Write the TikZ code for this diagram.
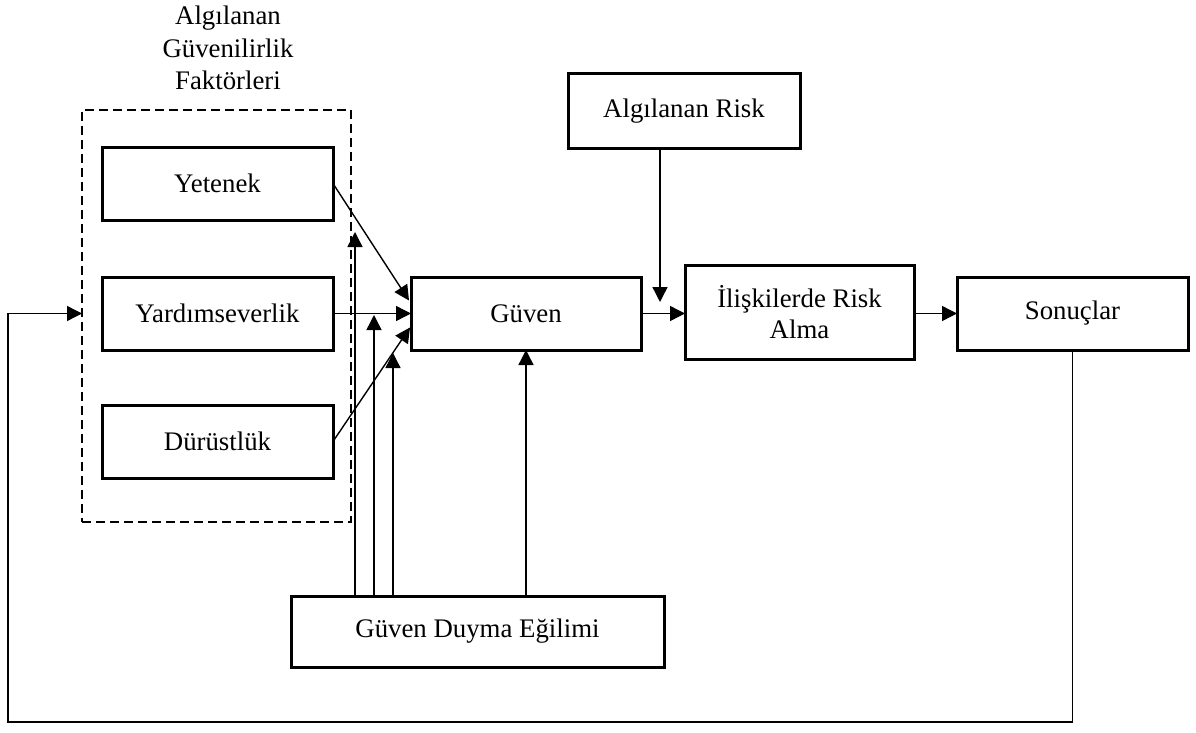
\documentclass[tikz,border=0pt]{standalone}
\usepackage{fontspec}
\setmainfont{Liberation Serif}
\usetikzlibrary{arrows.meta,calc}
\begin{document}
\begin{tikzpicture}[x=1pt,y=-1pt,
  box/.style={draw,line width=3pt,minimum width=#1,inner sep=0pt,outer sep=0pt,align=center,font=\fontsize{26.8}{31}\selectfont},
  box/.default=231pt,
  arr/.style={line width=1.4pt,-{Triangle[length=15pt,width=15pt]}},
  dbox/.style={draw,line width=2.6pt,dash pattern=on 9pt off 5pt,minimum width=269pt,minimum height=412pt,inner sep=0pt,outer sep=0pt},
  ttl/.style={align=center,font=\fontsize{26.8}{32.5}\selectfont,inner sep=0pt}]
\useasboundingbox (0,0) rectangle (1196,733);
\node[dbox] (fac) at (216.5,316) {};
\node[ttl] (t) at (228,48) {Algılanan\\Güvenilirlik\\Faktörleri};
\node[box,minimum height=73pt] (ye) at (217.5,183.5) {Yetenek};
\node[box,minimum height=73pt] (ya) at (217.5,313.5) {Yardımseverlik};
\node[box,minimum height=73pt] (du) at (217.5,441.5) {Dürüstlük};
\node[box=230pt,minimum height=73pt] (gu) at (526,313.5) {Güven};
\node[box=232pt,minimum height=74pt] (ar) at (684,111) {Algılanan Risk};
\node[box=229pt,minimum height=94pt] (il) at (799.5,312) {İlişkilerde Risk\\Alma};
\node[box,minimum height=73pt] (so) at (1072.5,313.5) {Sonuçlar};
\node[box=373pt,minimum height=71pt] (gd) at (477.5,631.5) {Güven Duyma Eğilimi};
% factor arrows
\draw[arr] (ye.east) -- ($(gu.west)+(-2,-13)$);
\draw[arr] (ya.east) -- (gu.west);
\draw[arr] (du.east) -- ($(gu.west)+(-1,14)$);
% disposition arrows
\coordinate (p1) at (355,232);
\coordinate (p2) at (374,315);
\coordinate (p3) at (393,353);
\draw[arr] (gd.north -| p1) -- (p1);
\draw[arr] (gd.north -| p2) -- (p2);
\draw[arr] (gd.north -| p3) -- (p3);
\draw[arr] (gd.north -| gu.south) -- (gu.south);
% risk
\coordinate (rk) at (660,302);
\draw[arr] (ar.south -| rk) -- (rk);
\draw[arr] (gu.east) -- (il.west |- gu.east);
\draw[arr] (il.east |- so.west) -- (so.west);
% feedback
\draw[arr] (so.south) |- (8,722) |- (fac.west |- ya.west);
\end{tikzpicture}
\end{document}
